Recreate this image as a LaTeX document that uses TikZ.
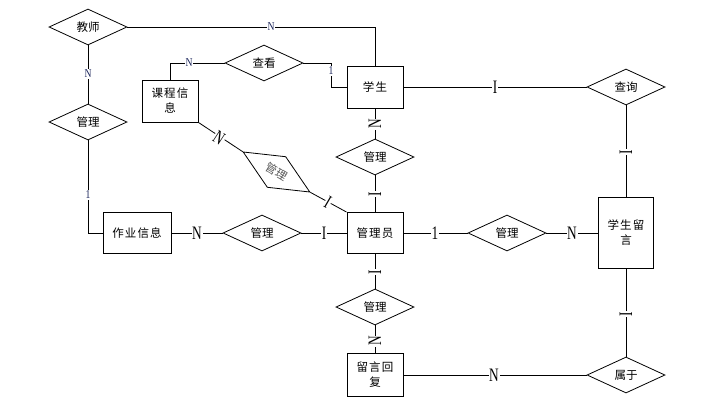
\documentclass[tikz,border=0pt]{standalone}
\usepackage{fontspec}
\setmainfont{Liberation Serif}
\newfontfamily\cjk{Noto Sans CJK SC}
\newfontfamily\cjkbox[LetterSpace=10]{Noto Sans CJK SC}
\usetikzlibrary{shapes.geometric}
\definecolor{navy}{RGB}{25,35,90}
\tikzset{
  ent/.style={draw, rectangle, minimum width=56pt, minimum height=42pt, inner sep=0pt, align=center, font=\cjkbox\fontsize{11.5}{15}\selectfont, line width=0.9pt},
  rel/.style={draw, diamond, minimum width=78pt, minimum height=36pt, inner sep=0pt, font=\cjk\fontsize{11.5}{14}\selectfont, line width=0.8pt},
  big/.style={fill=white, inner sep=1pt, font=\fontsize{19}{19}\selectfont, xscale=0.7},
  small/.style={fill=white, inner sep=1pt, text=navy, font=\fontsize{12}{12}\selectfont, xscale=0.8},
  conn/.style={line width=0.8pt},
}
\begin{document}
\begin{tikzpicture}[x=1pt,y=-1pt]
\fill[white] (0,0) rectangle (703,407);
\useasboundingbox (0,0) rectangle (703,407);
% entities and relations
\node[rel] (t) at (88,27) {教师};
\node[rel] (m1) at (88,122) {管理};
\node[ent, minimum width=68pt, minimum height=41pt] (h) at (137,233) {作业信息};
\node[rel] (m2) at (262,233) {管理};
\node[ent, minimum height=41pt] (g) at (375,233) {管理员};
\node[ent] (k) at (170,101) {课程信\\息};
\node[rel] (c) at (264,63) {查看};
\node[ent] (s) at (375,87) {学生};
\node[rel] (q) at (626,87) {查询};
\node[ent, minimum width=55pt, minimum height=71pt] (ly) at (626,233) {学生留\\言};
\node[rel] (m3) at (375,157) {管理};
\node[rel] (m4) at (507,233) {管理};
\node[rel] (m5) at (375,307) {管理};
\node[ent, minimum height=43pt] (r) at (375,375) {留言回\\复};
\node[rel] (sh) at (626,375) {属于};
\node[rel, rotate=-31, text=black!65] (m6) at (276.5,172) {管理};
% connectors
\coordinate (cb) at (331,87);
\draw[conn] (t.east) -| (s.north);
\draw[conn] (t.south) -- (m1.north);
\draw[conn] (m1.south) |- (h.west);
\draw[conn] (h.east) -- (m2.west);
\draw[conn] (m2.east) -- (g.west);
\draw[conn] (k.north) |- (c.west);
\draw[conn] (c.east) -| (cb) -- (s.west);
\draw[conn] (s.east) -- (q.west);
\draw[conn] (q.south) -- (ly.north);
\draw[conn] (s.south) -- (m3.north);
\draw[conn] (m3.south) -- (g.north);
\draw[conn] (g.east) -- (m4.west);
\draw[conn] (m4.east) -- (ly.west);
\draw[conn] (g.south) -- (m5.north);
\draw[conn] (m5.south) -- (r.north);
\draw[conn] (r.east) -- (sh.west);
\draw[conn] (ly.south) -- (sh.north);
\draw[conn] (k.south east) -- (m6.west);
\draw[conn] (m6.east) -- (g.north west);
% cardinality labels
\node[small] (l1) at (271,27) {N};
\node[small] (l2) at (88,74) {N};
\node[small] (l3) at (88,195) {1};
\node[big] (l4) at (197,233) {N};
\node[big] (l5) at (324,233) {I};
\node[small] (l6) at (189,63) {N};
\node[small] (l7) at (331,71) {1};
\node[big] (l8) at (495,87) {I};
\node[rotate=90, big] (l9) at (626,152) {I};
\node[rotate=90, big] (l10) at (375,124) {N};
\node[rotate=90, big] (l11) at (375,194) {I};
\node[big] (l12) at (435,233) {1};
\node[big] (l13) at (572,233) {N};
\node[rotate=90, big] (l14) at (375,272) {I};
\node[rotate=90, big] (l15) at (375,341) {N};
\node[big] (l16) at (494,375) {N};
\node[rotate=90, big] (l17) at (626,314) {I};
\node[rotate=-33, big] (l18) at (219,138) {N};
\node[rotate=-30, big] (l19) at (328,202) {I};
\end{tikzpicture}
\end{document}
